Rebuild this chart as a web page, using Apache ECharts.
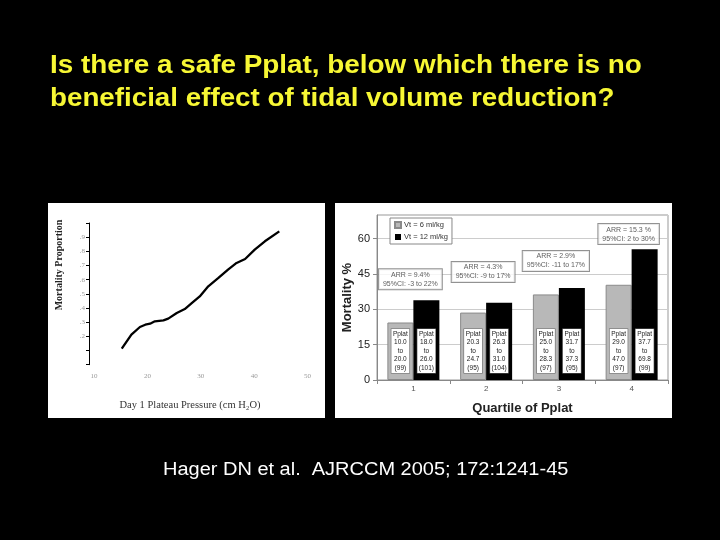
<!DOCTYPE html>
<html>
<head>
<meta charset="utf-8">
<script src="https://cdn.jsdelivr.net/npm/echarts@6/dist/echarts.min.js"></script>
<style>
html,body{margin:0;padding:0;background:#000;}
#c{width:720px;height:540px;}
</style>
</head>
<body>
<div id="c"></div>
<script>
// ---- text ----
const titleLines = ["Is there a safe Pplat, below which there is no", "beneficial effect of tidal volume reduction?"];
const citation = "Hager DN et al.  AJRCCM 2005; 172:1241-45";

// ---- left chart: mortality proportion vs day 1 plateau pressure ----
const pressure = [15.2, 17.0, 18.6, 19.6, 20.5, 21.4, 23.0, 23.9, 25.5, 27.0, 28.3, 29.8, 31.4, 33.3, 35.1, 36.7, 38.3, 40.1, 42.0, 44.7];
const mortalityProp = [0.113, 0.212, 0.266, 0.282, 0.289, 0.306, 0.313, 0.325, 0.365, 0.393, 0.435, 0.482, 0.553, 0.612, 0.671, 0.718, 0.746, 0.812, 0.871, 0.941];
const leftXTitle = "Day 1 Plateau Pressure (cm H\u2082O)";
const leftYTitle = "Mortality Proportion";

// ---- right chart: mortality % by quartile of Pplat ----
const quartiles = ["1", "2", "3", "4"];
const seriesNames = ["Vt = 6 ml/kg", "Vt = 12 ml/kg"];
const mort6 = [24.4, 28.6, 36.3, 40.4];
const mort12 = [33.8, 32.8, 39.0, 55.5];
const pplat6 = [["10.0", "20.0", "(99)"], ["20.3", "24.7", "(95)"], ["25.0", "28.3", "(97)"], ["29.0", "47.0", "(97)"]];
const pplat12 = [["18.0", "26.0", "(101)"], ["26.3", "31.0", "(104)"], ["31.7", "37.3", "(95)"], ["37.7", "69.8", "(99)"]];
const arrLines = [["ARR = 9.4%", "95%CI: -3 to 22%"], ["ARR = 4.3%", "95%CI: -9 to 17%"], ["ARR = 2.9%", "95%CI: -11 to 17%"], ["ARR = 15.3 %", "95%CI: 2 to 30%"]];
const arrY = [42.7, 45.8, 50.5, 61.9];

const chart = echarts.init(document.getElementById('c'), null, {renderer: 'canvas'});

function pplatLabel(arr) {
  return function (p) {
    const r = arr[p.dataIndex];
    return '{h|Pplat}\n' + r[0] + '\nto\n' + r[1] + '\n' + r[2];
  };
}
const pplatLabelStyle = {
  show: true,
  position: 'insideBottom',
  distance: 7,
  fontSize: 6.5,
  lineHeight: 8.4,
  color: '#222',
  fontFamily: 'Liberation Sans',
  backgroundColor: '#fff',
  borderColor: '#666',
  borderWidth: 0.6,
  padding: [1, 2],
  width: 14,
  align: 'center',
  rich: {h: {fontSize: 6.5, lineHeight: 8.4, color: '#222', fontFamily: 'Liberation Sans'}}
};

const option = {
  animation: false,
  backgroundColor: '#000',
  graphic: [
    {type: 'rect', shape: {x: 48, y: 203, width: 277, height: 215}, style: {fill: '#fff'}, z: -10},
    {type: 'rect', shape: {x: 335, y: 203, width: 337, height: 215}, style: {fill: '#fff'}, z: -10},
    {type: 'text', x: 50, y: 54, scaleX: 1.115, style: {text: titleLines[0], fill: '#f7f734', font: 'bold 25px "Liberation Sans"', textVerticalAlign: 'alphabetic'}},
    {type: 'text', x: 50, y: 87, scaleX: 1.11, style: {text: titleLines[1], fill: '#f7f734', font: 'bold 25px "Liberation Sans"', textVerticalAlign: 'alphabetic'}},
    {type: 'text', x: 163, y: 461, scaleX: 1.11, style: {text: citation, fill: '#fff', font: '18px "Liberation Sans"', textVerticalAlign: 'alphabetic'}},
    {type: 'text', x: 190, y: 405, style: {text: leftXTitle, fill: '#333', font: '10.5px "Liberation Serif"', textAlign: 'center', textVerticalAlign: 'middle'}},
    {type: 'text', x: 59, y: 265, rotation: Math.PI / 2, style: {text: leftYTitle, fill: '#222', font: 'bold 10px "Liberation Serif"', textAlign: 'center', textVerticalAlign: 'middle'}}
  ],
  legend: {
    data: seriesNames,
    left: 390, top: 218,
    orient: 'vertical',
    itemWidth: 6, itemHeight: 6, itemGap: 4,
    icon: 'rect',
    backgroundColor: '#fff',
    borderColor: '#888', borderWidth: 1,
    padding: [3, 4, 3, 4],
    textStyle: {fontSize: 7.5, color: '#333', fontFamily: 'Liberation Sans', padding: [0, 0, 0, -2]}
  },
  grid: [
    {left: 94, top: 223, width: 213.6, height: 141.7},
    {left: 377, top: 215, right: 52, bottom: 160, show: true, backgroundColor: '#fff', borderColor: '#999', borderWidth: 1}
  ],
  xAxis: [
    {gridIndex: 0, type: 'value', min: 10, max: 50, interval: 10,
     axisLine: {show: false}, axisTick: {show: false}, splitLine: {show: false},
     axisLabel: {fontSize: 7, color: '#999', margin: 8, fontFamily: 'Liberation Serif'}},
    {gridIndex: 1, type: 'category', data: quartiles,
     axisLine: {lineStyle: {color: '#888'}}, axisTick: {show: true, length: 4, lineStyle: {color: '#888'}},
     axisLabel: {fontSize: 8, color: '#555', margin: 5, fontFamily: 'Liberation Sans'},
     name: 'Quartile of Pplat', nameLocation: 'middle', nameGap: 22,
     nameTextStyle: {fontSize: 13, fontWeight: 'bold', color: '#222', fontFamily: 'Liberation Sans'}}
  ],
  yAxis: [
    {gridIndex: 0, type: 'value', min: 0, max: 1, interval: 0.1, offset: 5,
     axisLine: {show: true, lineStyle: {color: '#000', width: 1}},
     axisTick: {show: true, length: 3, lineStyle: {color: '#000'}},
     splitLine: {show: false},
     axisLabel: {fontSize: 7, color: '#999', margin: 4, fontFamily: 'Liberation Serif',
       formatter: function (v) { return (v > 0.15 && v < 0.95) ? '.' + Math.round(v * 10) : ''; }}},
    {gridIndex: 1, type: 'value', min: 0, max: 70, interval: 15,
     axisLine: {show: true, lineStyle: {color: '#888'}},
     axisTick: {show: true, length: 4, lineStyle: {color: '#888'}},
     splitLine: {show: true, lineStyle: {color: '#ccc'}},
     axisLabel: {fontSize: 11, color: '#222', margin: 7, showMaxLabel: false, fontFamily: 'Liberation Sans'},
     name: 'Mortality %', nameLocation: 'middle', nameGap: 23,
     nameTextStyle: {fontSize: 13, fontWeight: 'bold', color: '#222', fontFamily: 'Liberation Sans'}}
  ],
  series: [
    {type: 'line', xAxisIndex: 0, yAxisIndex: 0, showSymbol: false, silent: true,
     data: pressure.map(function (x, i) { return [x, mortalityProp[i]]; }),
     lineStyle: {color: '#000', width: 2.3}},
    {type: 'bar', name: seriesNames[0], xAxisIndex: 1, yAxisIndex: 1, data: mort6,
     barWidth: 26, barGap: '0%',
     itemStyle: {color: '#b8b8b8', borderColor: '#8a8a8a', borderWidth: 1},
     label: Object.assign({}, pplatLabelStyle, {formatter: pplatLabel(pplat6)})},
    {type: 'bar', name: seriesNames[1], xAxisIndex: 1, yAxisIndex: 1, data: mort12,
     barWidth: 26, barGap: '0%',
     itemStyle: {color: '#000'},
     label: Object.assign({}, pplatLabelStyle, {formatter: pplatLabel(pplat12)})},
    {type: 'scatter', xAxisIndex: 1, yAxisIndex: 1, symbolSize: 0, silent: true,
     data: quartiles.map(function (q, i) { return [q, arrY[i]]; }),
     label: {show: true, position: 'inside', offset: [-3, 0],
       formatter: function (p) { return arrLines[p.dataIndex].join('\n'); },
       fontSize: 7, lineHeight: 9, color: '#333', fontFamily: 'Liberation Sans',
       backgroundColor: '#fff', borderColor: '#777', borderWidth: 1, padding: [1, 4], align: 'center'}}
  ]
};
chart.setOption(option);
</script>
</body>
</html>
